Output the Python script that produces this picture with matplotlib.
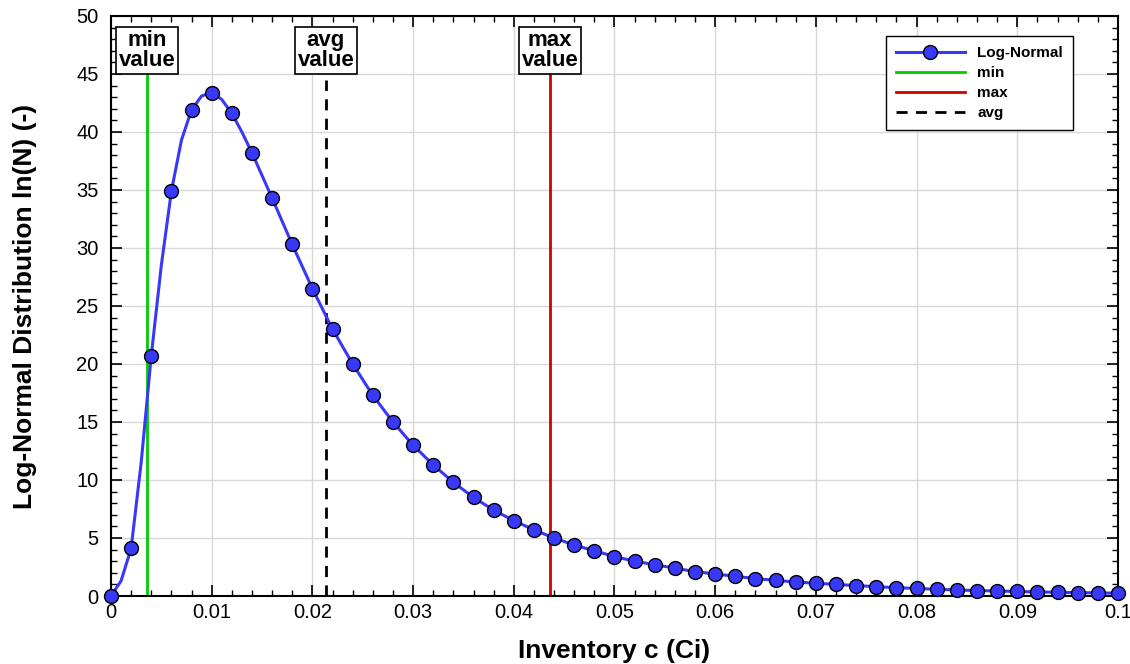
import matplotlib
matplotlib.use("Agg")
import matplotlib.pyplot as plt
from matplotlib.ticker import MultipleLocator

plt.rcParams['font.family'] = ['Liberation Sans', 'DejaVu Sans']

# Marker data (Log-Normal distribution)
marker_x = [0.000, 0.002, 0.004, 0.006, 0.008, 0.010, 0.012, 0.014, 0.016, 0.018,
            0.020, 0.022, 0.024, 0.026, 0.028, 0.030, 0.032, 0.034, 0.036, 0.038,
            0.040, 0.042, 0.044, 0.046, 0.048, 0.050, 0.052, 0.054, 0.056, 0.058,
            0.060, 0.062, 0.064, 0.066, 0.068, 0.070, 0.072, 0.074, 0.076, 0.078,
            0.080, 0.082, 0.084, 0.086, 0.088, 0.090, 0.092, 0.094, 0.096, 0.098,
            0.100]
marker_y = [0.0, 4.1, 20.7, 34.9, 41.9, 43.4, 41.6, 38.2, 34.3, 30.3,
            26.5, 23.0, 20.0, 17.3, 15.0, 13.0, 11.3, 9.8, 8.5, 7.4,
            6.5, 5.7, 5.0, 4.4, 3.9, 3.4, 3.0, 2.7, 2.4, 2.1,
            1.9, 1.7, 1.5, 1.35, 1.2, 1.1, 1.0, 0.9, 0.8, 0.72,
            0.65, 0.58, 0.52, 0.47, 0.43, 0.39, 0.35, 0.32, 0.29, 0.27,
            0.24]

# Extra curve points read between markers near the peak
extra_x = [0.001, 0.003, 0.005, 0.007, 0.009, 0.011, 0.013]
extra_y = [1.3, 11.5, 28.5, 39.3, 43.1, 42.8, 40.0]

min_value = 0.00357
avg_value = 0.02135
max_value = 0.0436

xtick_labels = ['0', '0.01', '0.02', '0.03', '0.04', '0.05', '0.06', '0.07', '0.08', '0.09', '0.1']

pts = sorted(zip(marker_x + extra_x, marker_y + extra_y))
line_x = [p[0] for p in pts]
line_y = [p[1] for p in pts]

fig = plt.figure(figsize=(11.3, 6.64), dpi=100)
ax = fig.add_axes([0.0982, 0.1024, 0.8912, 0.8736])

blue = '#3838f8'
ax.plot(line_x, line_y, color=blue, lw=2.2, zorder=3)
ax.plot(marker_x, marker_y, ls='none', marker='o', ms=10, mfc=blue, mec='black',
        mew=1.0, zorder=4, clip_on=False)
ax.plot([], [], color=blue, lw=2.2, marker='o', ms=10, mfc=blue, mec='black',
        mew=1.0, label='Log-Normal')

top = 45.1
ax.plot([min_value, min_value], [0, top], color='#00cc00', lw=2, label='min', zorder=2)
ax.plot([max_value, max_value], [0, top], color='#d00000', lw=2, label='max', zorder=2)
ax.plot([avg_value, avg_value], [0, 44.5], color='black', lw=2, ls=(0, (4, 3)),
        label='avg', zorder=2)

for xv, txt in [(min_value, 'min\nvalue'), (avg_value, 'avg\nvalue'), (max_value, 'max\nvalue')]:
    ax.text(xv, top + 0.15, txt, ha='center', va='bottom', fontsize=16, fontweight='bold',
            linespacing=0.95,
            bbox=dict(boxstyle='square,pad=0.12', fc='white', ec='black', lw=1.2), zorder=5)

ax.set_xlim(0, 0.1)
ax.set_ylim(0, 50)
ax.set_xticks([i * 0.01 for i in range(11)])
ax.set_xticklabels(xtick_labels)
ax.xaxis.set_minor_locator(MultipleLocator(0.002))
ax.yaxis.set_major_locator(MultipleLocator(5))
ax.yaxis.set_minor_locator(MultipleLocator(1))
ax.tick_params(which='both', direction='in', top=True, right=True, labelsize=14.5)
ax.tick_params(which='major', length=8, width=1.2)
ax.tick_params(which='minor', length=4, width=1)
ax.tick_params(axis='y', which='major', pad=9)
ax.tick_params(axis='x', which='major', pad=5)
ax.grid(True, which='major', color='#d8d8d8', lw=1)
ax.set_axisbelow(True)
for s in ax.spines.values():
    s.set_linewidth(1.5)

ax.set_xlabel('Inventory c (Ci)', fontsize=19, fontweight='bold', labelpad=12)
ax.set_ylabel('Log-Normal Distribution ln(N) (-)', fontsize=19, fontweight='bold', labelpad=28)

leg = ax.legend(loc='upper right', bbox_to_anchor=(0.955, 0.9655), borderaxespad=0,
                prop={'weight': 'bold', 'size': 11}, fancybox=False, edgecolor='black',
                framealpha=1, handlelength=4.5, borderpad=0.65, labelspacing=0.4)
leg.get_frame().set_linewidth(1.0)

fig.savefig('out.png', dpi=100)
